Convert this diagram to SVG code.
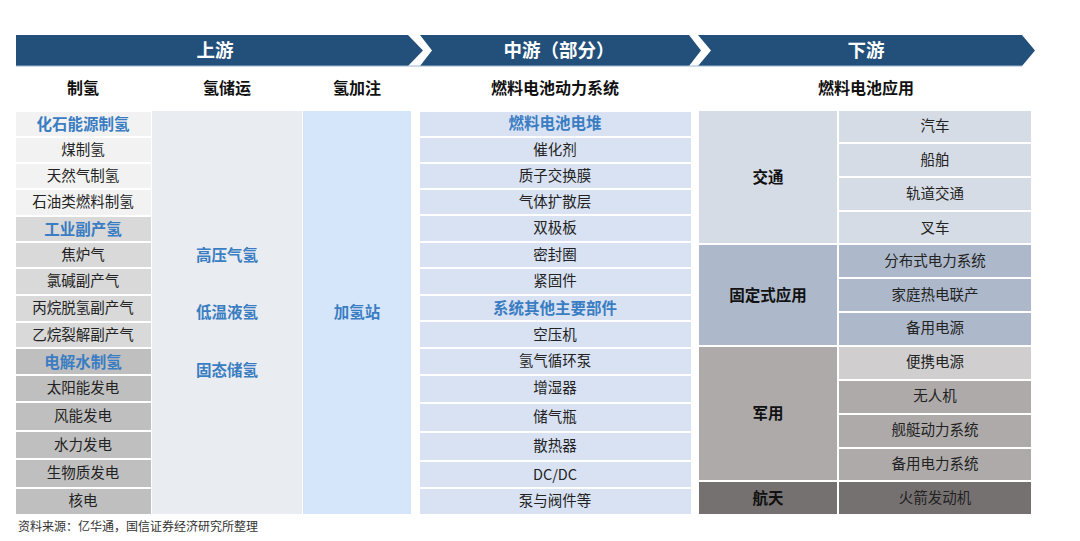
<svg xmlns="http://www.w3.org/2000/svg" width="1080" height="541" viewBox="0 0 1080 541">
<style>
text{font-family:"Noto Sans CJK SC","Noto Sans",sans-serif;text-anchor:middle;dominant-baseline:central;transform:translateY(-1.5px)}
.ban{fill:#23507A}
.bt{fill:#fff;font-size:18.5px;font-weight:bold}
.ch{fill:#111;font-size:16px;font-weight:bold}
.t{fill:#222;font-size:14.5px}
.h{fill:#3A7DC2;font-size:15.5px;font-weight:bold}
.c{fill:#111;font-size:15.5px;font-weight:bold}
.g1{fill:#F2F2F2}.g2{fill:#D9D9D9}.g3{fill:#BFBFBF}
.mb{fill:#D9E2F3}
.r1{fill:#D6DCE5}.r2{fill:#ADB9CA}.r3{fill:#AEAAAA}.r3l{fill:#D0CECE}.r4{fill:#767171}
.foot{fill:#333;font-size:12px;text-anchor:start}
</style>
<rect width="1080" height="541" fill="#fff"/>
<g id="banner">
<polygon class="ban" points="16,35 408,35 423,50.5 408,66 16,66"/>
<polygon class="ban" points="420,35 689,35 701,50.5 689,66 420,66 432,50.5"/>
<polygon class="ban" points="698,35 1022,35 1035,50.5 1022,66 698,66 711,50.5"/>
<line x1="16" y1="66" x2="1022" y2="66" stroke="#9DB6D0" stroke-width="1"/>
<text class="bt" x="215" y="50">上游</text>
<text class="bt" x="559" y="50">中游（部分）</text>
<text class="bt" x="866" y="50">下游</text>
</g>
<g id="headers">
<text class="ch" x="83" y="88">制氢</text>
<text class="ch" x="227" y="88">氢储运</text>
<text class="ch" x="357" y="88">氢加注</text>
<text class="ch" x="555" y="88">燃料电池动力系统</text>
<text class="ch" x="866" y="88">燃料电池应用</text>
</g>
<g id="zhiqing">
<g id="z1"><rect class="g1" x="16" y="112" width="135" height="24"/><text class="h" x="83" y="124">化石能源制氢</text></g>
<g id="z2"><rect class="g1" x="16" y="138" width="135" height="24"/><text class="t" x="83" y="150">煤制氢</text></g>
<g id="z3"><rect class="g1" x="16" y="164" width="135" height="24"/><text class="t" x="83" y="176">天然气制氢</text></g>
<g id="z4"><rect class="g1" x="16" y="190" width="135" height="25"/><text class="t" x="83" y="202">石油类燃料制氢</text></g>
<g id="z5"><rect class="g2" x="16" y="217" width="135" height="24"/><text class="h" x="83" y="229">工业副产氢</text></g>
<g id="z6"><rect class="g2" x="16" y="243" width="135" height="24"/><text class="t" x="83" y="255">焦炉气</text></g>
<g id="z7"><rect class="g2" x="16" y="269" width="135" height="25"/><text class="t" x="83" y="281">氯碱副产气</text></g>
<g id="z8"><rect class="g2" x="16" y="296" width="135" height="25"/><text class="t" x="83" y="308">丙烷脱氢副产气</text></g>
<g id="z9"><rect class="g2" x="16" y="323" width="135" height="24"/><text class="t" x="83" y="335">乙烷裂解副产气</text></g>
<g id="z10"><rect class="g3" x="16" y="349" width="135" height="25"/><text class="h" x="83" y="362">电解水制氢</text></g>
<g id="z11"><rect class="g3" x="16" y="376" width="135" height="25"/><text class="t" x="83" y="388">太阳能发电</text></g>
<g id="z12"><rect class="g3" x="16" y="403" width="135" height="27"/><text class="t" x="83" y="416">风能发电</text></g>
<g id="z13"><rect class="g3" x="16" y="432" width="135" height="26"/><text class="t" x="83" y="445">水力发电</text></g>
<g id="z14"><rect class="g3" x="16" y="460" width="135" height="27"/><text class="t" x="83" y="473">生物质发电</text></g>
<g id="z15"><rect class="g3" x="16" y="489" width="135" height="25"/><text class="t" x="83" y="501">核电</text></g>
</g>
<g id="chuyun">
<rect x="152" y="111" width="150" height="403" fill="#E9ECF0"/>
<text class="h" x="227" y="255">高压气氢</text>
<text class="h" x="227" y="312">低温液氢</text>
<text class="h" x="227" y="370">固态储氢</text>
</g>
<g id="jiazhu">
<rect x="303" y="111" width="108" height="403" fill="#D5E6FB"/>
<text class="h" x="357" y="312">加氢站</text>
</g>
<g id="dongli">
<g id="m1"><rect class="mb" x="420" y="112" width="271" height="24"/><text class="h" x="555" y="123">燃料电池电堆</text></g>
<g id="m2"><rect class="mb" x="420" y="138" width="271" height="24"/><text class="t" x="555" y="150">催化剂</text></g>
<g id="m3"><rect class="mb" x="420" y="164" width="271" height="24"/><text class="t" x="555" y="176">质子交换膜</text></g>
<g id="m4"><rect class="mb" x="420" y="190" width="271" height="24"/><text class="t" x="555" y="202">气体扩散层</text></g>
<g id="m5"><rect class="mb" x="420" y="216" width="271" height="25"/><text class="t" x="555" y="228">双极板</text></g>
<g id="m6"><rect class="mb" x="420" y="243" width="271" height="24"/><text class="t" x="555" y="255">密封圈</text></g>
<g id="m7"><rect class="mb" x="420" y="269" width="271" height="25"/><text class="t" x="555" y="281">紧固件</text></g>
<g id="m8"><rect class="mb" x="420" y="296" width="271" height="24"/><text class="h" x="555" y="308">系统其他主要部件</text></g>
<g id="m9"><rect class="mb" x="420" y="322" width="271" height="25"/><text class="t" x="555" y="335">空压机</text></g>
<g id="m10"><rect class="mb" x="420" y="349" width="271" height="25"/><text class="t" x="555" y="361">氢气循环泵</text></g>
<g id="m11"><rect class="mb" x="420" y="376" width="271" height="26"/><text class="t" x="555" y="388">增湿器</text></g>
<g id="m12"><rect class="mb" x="420" y="404" width="271" height="27"/><text class="t" x="555" y="417">储气瓶</text></g>
<g id="m13"><rect class="mb" x="420" y="433" width="271" height="27"/><text class="t" x="555" y="446">散热器</text></g>
<g id="m14"><rect class="mb" x="420" y="462" width="271" height="25"/><text class="t" x="555" y="475">DC/DC</text></g>
<g id="m15"><rect class="mb" x="420" y="489" width="271" height="25"/><text class="t" x="555" y="501">泵与阀件等</text></g>
</g>
<g id="yingyong">
<g id="c1"><rect class="r1" x="699" y="111" width="138" height="132"/><text class="c" x="768" y="177">交通</text></g>
<g id="c2"><rect class="r2" x="699" y="245" width="138" height="100"/><text class="c" x="768" y="295">固定式应用</text></g>
<g id="c3"><rect class="r3" x="699" y="347" width="138" height="133"/><text class="c" x="768" y="413">军用</text></g>
<g id="c4"><rect class="r4" x="699" y="482" width="138" height="32"/><text class="c" x="768" y="498">航天</text></g>
<g id="a1"><rect class="r1" x="839" y="111" width="192" height="31"/><text class="t" x="935" y="126">汽车</text></g>
<g id="a2"><rect class="r1" x="839" y="144" width="192" height="32"/><text class="t" x="935" y="160">船舶</text></g>
<g id="a3"><rect class="r1" x="839" y="178" width="192" height="32"/><text class="t" x="935" y="194">轨道交通</text></g>
<g id="a4"><rect class="r1" x="839" y="212" width="192" height="31"/><text class="t" x="935" y="228">叉车</text></g>
<g id="a5"><rect class="r2" x="839" y="245" width="192" height="32"/><text class="t" x="935" y="261">分布式电力系统</text></g>
<g id="a6"><rect class="r2" x="839" y="279" width="192" height="32"/><text class="t" x="935" y="295">家庭热电联产</text></g>
<g id="a7"><rect class="r2" x="839" y="313" width="192" height="32"/><text class="t" x="935" y="328">备用电源</text></g>
<g id="a8"><rect class="r3l" x="839" y="347" width="192" height="32"/><text class="t" x="935" y="362">便携电源</text></g>
<g id="a9"><rect class="r3" x="839" y="381" width="192" height="32"/><text class="t" x="935" y="396">无人机</text></g>
<g id="a10"><rect class="r3" x="839" y="415" width="192" height="32"/><text class="t" x="935" y="430">舰艇动力系统</text></g>
<g id="a11"><rect class="r3" x="839" y="449" width="192" height="31"/><text class="t" x="935" y="464">备用电力系统</text></g>
<g id="a12"><rect class="r4" x="839" y="482" width="192" height="32"/><text class="t" x="935" y="498">火箭发动机</text></g>
</g>
<g id="connectors"></g>
<text class="foot" x="18" y="527">资料来源：亿华通，国信证券经济研究所整理</text>
</svg>
